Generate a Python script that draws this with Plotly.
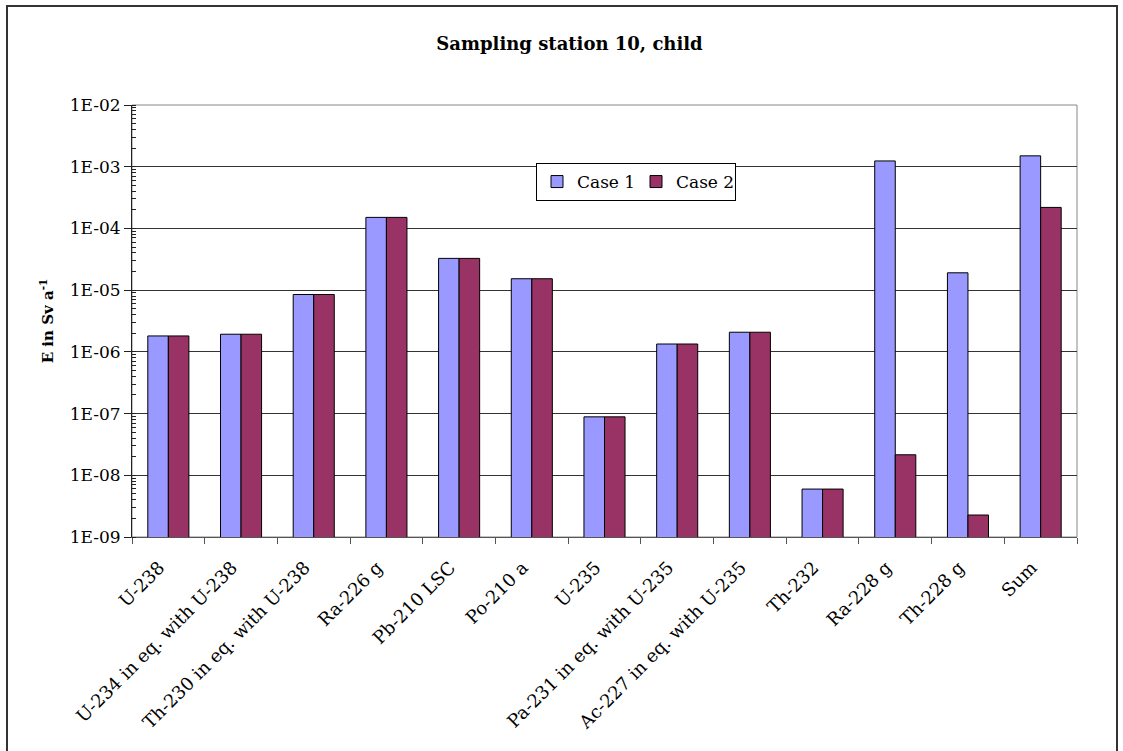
import plotly.graph_objects as go

categories = [
    "U-238", "U-234 in eq. with U-238", "Th-230 in eq. with U-238", "Ra-226 g",
    "Pb-210 LSC", "Po-210 a", "U-235", "Pa-231 in eq. with U-235",
    "Ac-227 in eq. with U-235", "Th-232", "Ra-228 g", "Th-228 g", "Sum",
]
case1 = [1.81e-6, 1.93e-6, 8.5e-6, 1.51e-4, 3.27e-5, 1.53e-5, 8.85e-8,
         1.34e-6, 2.08e-6, 5.98e-9, 1.24e-3, 1.91e-5, 1.50e-3]
case2 = [1.81e-6, 1.93e-6, 8.5e-6, 1.51e-4, 3.27e-5, 1.53e-5, 8.85e-8,
         1.34e-6, 2.08e-6, 5.98e-9, 2.15e-8, 2.27e-9, 2.19e-4]
tick_values = [1e-9, 1e-8, 1e-7, 1e-6, 1e-5, 1e-4, 1e-3, 1e-2]
tick_labels = ["1E-09", "1E-08", "1E-07", "1E-06", "1E-05", "1E-04", "1E-03", "1E-02"]

W, H = 1123, 751
L, R, T, B = 132, 46, 105, 214
pw, ph = W - L - R, H - T - B

serif = "DejaVu Serif"

fig = go.Figure()
fig.add_trace(go.Bar(name="Case 1", x=categories, y=case1,
                     marker=dict(color="#9999FF", line=dict(color="#000000", width=1))))
fig.add_trace(go.Bar(name="Case 2", x=categories, y=case2,
                     marker=dict(color="#993366", line=dict(color="#000000", width=1))))


def px_x(p):
    return (p - L) / pw


def px_y(p):
    return 1 - (p - T) / ph


shapes = [
    # plot-area frame
    dict(type="rect", xref="paper", yref="paper", x0=0, x1=1, y0=0, y1=1,
         line=dict(color="#888888", width=1), layer="below"),
    # outer chart border
    dict(type="rect", xref="paper", yref="paper",
         x0=px_x(7), x1=px_x(1117), y0=px_y(770), y1=px_y(6),
         line=dict(color="#333333", width=2), layer="below"),
]

fig.update_layout(
    width=W, height=H,
    margin=dict(l=L, r=R, t=T, b=B, autoexpand=False),
    paper_bgcolor="white", plot_bgcolor="white",
    font=dict(family=serif, color="black", size=17),
    title=dict(text="<b>Sampling station 10, child</b>", x=569.5 / W, xanchor="center",
               y=1 - 44 / H, yanchor="middle", font=dict(family=serif, size=18)),
    barmode="group", bargap=0.435, bargroupgap=0,
    showlegend=True,
    legend=dict(orientation="h", x=px_x(536), y=px_y(163), xanchor="left", yanchor="top",
                bgcolor="white", bordercolor="black", borderwidth=1,
                entrywidth=54, itemwidth=30,
                font=dict(family=serif, size=17), traceorder="normal"),
    shapes=shapes,
)

fig.update_xaxes(
    type="category", tickangle=-45, tickson="boundaries", ticks="outside", ticklen=6,
    tickcolor="#555555", showline=True, linecolor="#555555", linewidth=1,
    showgrid=False, tickfont=dict(family=serif, size=18),
    ticklabelstandoff=12, ticklabelshift=-9,
)
fig.update_yaxes(
    type="log", range=[-9, -2], tickvals=tick_values, ticktext=tick_labels,
    ticks="outside", ticklen=7, tickcolor="#222222",
    showline=True, linecolor="#222222", linewidth=1,
    showgrid=True, gridcolor="#333333", gridwidth=1,
    minor=dict(ticks="inside", ticklen=4, tickcolor="#222222", dtick="D1", showgrid=False),
    tickfont=dict(family=serif, size=17),
    title=dict(text="<b>E in Sv a<sup>-1</sup></b>", font=dict(family=serif, size=15), standoff=12),
)

fig.write_html("out.html")
